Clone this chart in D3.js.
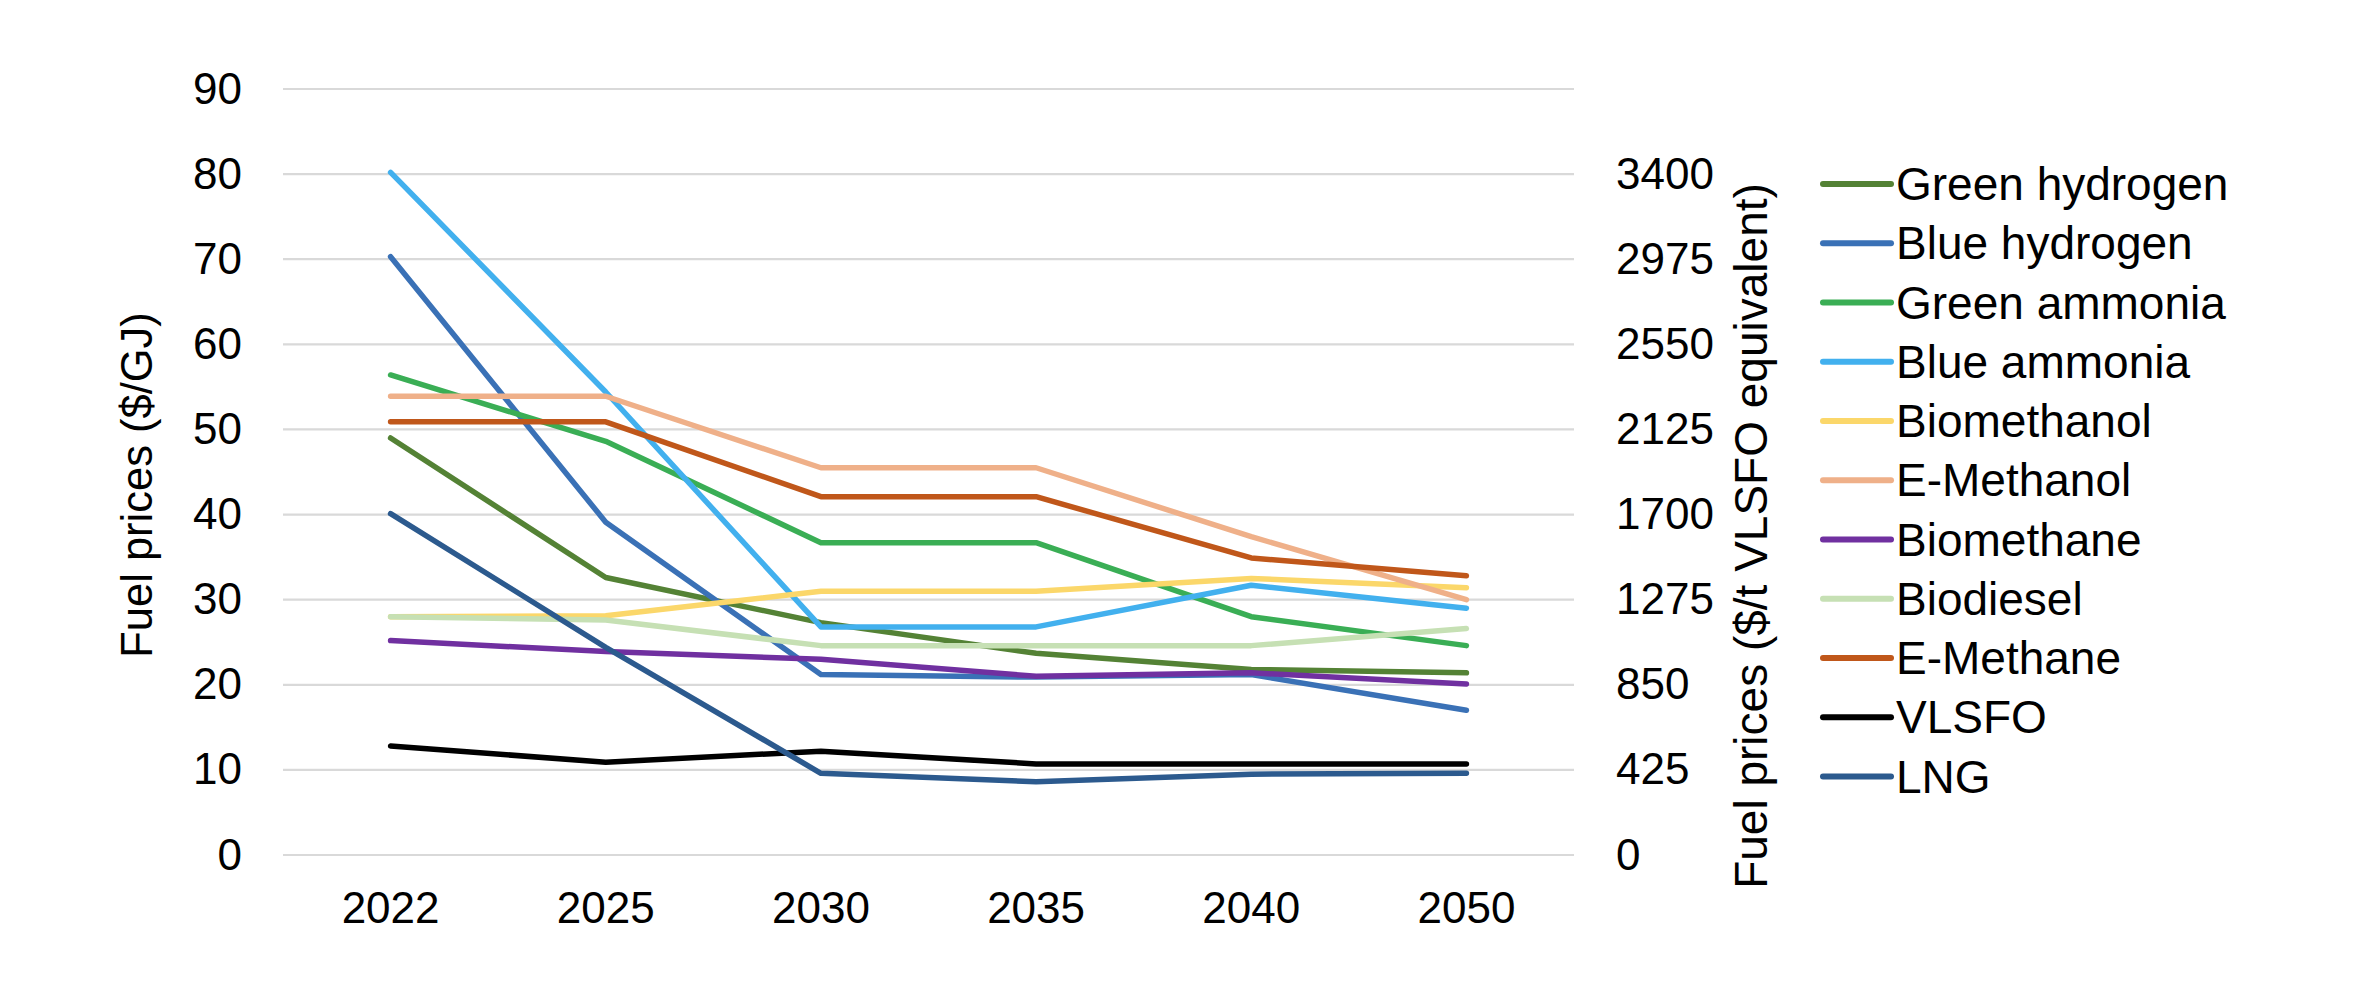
<!DOCTYPE html>
<html>
<head>
<meta charset="utf-8">
<script src="https://cdn.jsdelivr.net/npm/d3@7"></script>
<style>
  html, body { margin: 0; padding: 0; background: #fff; }
  svg { display: block; font-family: "Liberation Sans", Arial, sans-serif; }
</style>
</head>
<body>
<svg id="chart" width="2360" height="986"></svg>
<script>
const years = ["2022", "2025", "2030", "2035", "2040", "2050"];
const leftTicks = [0, 10, 20, 30, 40, 50, 60, 70, 80, 90];
const rightTicks = [0, 425, 850, 1275, 1700, 2125, 2550, 2975, 3400];

const seriesNames = ["Green hydrogen", "Blue hydrogen", "Green ammonia", "Blue ammonia", "Biomethanol",
  "E-Methanol", "Biomethane", "Biodiesel", "E-Methane", "VLSFO", "LNG"];
const seriesColors = ["#548235", "#3a71b6", "#3aae55", "#42b0ee", "#fbd76a",
  "#efb089", "#7030a0", "#c6e0b4", "#c0571a", "#000000", "#2c5a8e"];

const greenHydrogen = [49.0, 32.6, 27.3, 23.7, 21.8, 21.4];
const blueHydrogen  = [70.3, 39.1, 21.2, 20.9, 21.2, 17.0];
const greenAmmonia  = [56.4, 48.6, 36.7, 36.7, 28.0, 24.6];
const blueAmmonia   = [80.2, 54.4, 26.8, 26.8, 31.7, 29.0];
const biomethanol   = [28.0, 28.1, 31.0, 31.0, 32.5, 31.4];
const eMethanol     = [53.9, 53.9, 45.5, 45.5, 37.4, 30.0];
const biomethane    = [25.2, 23.9, 23.0, 21.0, 21.4, 20.1];
const biodiesel     = [28.0, 27.6, 24.6, 24.6, 24.6, 26.6];
const eMethane      = [50.9, 50.9, 42.1, 42.1, 34.9, 32.8];
const vlsfo         = [12.8, 10.9, 12.2, 10.7, 10.7, 10.7];
const lng           = [40.1, 24.4, 9.6, 8.6, 9.5, 9.6];

const seriesValues = [greenHydrogen, blueHydrogen, greenAmmonia, blueAmmonia, biomethanol,
  eMethanol, biomethane, biodiesel, eMethane, vlsfo, lng];

const svg = d3.select("#chart");
const plotLeft = 283, plotRight = 1574, plotTop = 89, plotBottom = 855;
const tickFont = 44;
const FF = "Liberation Sans, Arial, sans-serif";

const x = d3.scaleBand().domain(years).range([plotLeft, plotRight]);
const xc = d => x(d) + x.bandwidth() / 2;
const y = d3.scaleLinear().domain([0, 90]).range([plotBottom, plotTop]);
const y2 = d3.scaleLinear().domain([0, 90 * 42.5]).range([plotBottom, plotTop]);

// gridlines
svg.append("g").selectAll("line").data(leftTicks).join("line")
  .attr("x1", plotLeft).attr("x2", plotRight)
  .attr("y1", d => y(d)).attr("y2", d => y(d))
  .attr("stroke", "#d9d9d9").attr("stroke-width", 2.2);

// left axis
const leftAxis = svg.append("g").attr("transform", `translate(${plotLeft},0)`)
  .call(d3.axisLeft(y).tickValues(leftTicks).tickSize(0).tickPadding(41));
leftAxis.select(".domain").remove();
leftAxis.selectAll("text").attr("font-size", tickFont).attr("fill", "#000").attr("font-family", FF);

// right axis
const rightAxis = svg.append("g").attr("transform", `translate(${plotRight},0)`)
  .call(d3.axisRight(y2).tickValues(rightTicks).tickFormat(d3.format("d")).tickSize(0).tickPadding(42));
rightAxis.select(".domain").remove();
rightAxis.selectAll("text").attr("font-size", tickFont).attr("fill", "#000").attr("font-family", FF);

// bottom axis
const bottomAxis = svg.append("g").attr("transform", `translate(0,${plotBottom})`)
  .call(d3.axisBottom(x).tickSize(0).tickPadding(37));
bottomAxis.select(".domain").remove();
bottomAxis.selectAll("text").attr("font-size", tickFont).attr("fill", "#000").attr("font-family", FF);

// axis titles
svg.append("text")
  .attr("transform", `translate(152,485) rotate(-90)`)
  .attr("text-anchor", "middle").attr("font-size", 43.5).attr("fill", "#000")
  .text("Fuel prices ($/GJ)");
svg.append("text")
  .attr("transform", `translate(1767,536) rotate(-90)`)
  .attr("text-anchor", "middle").attr("font-size", 46).attr("fill", "#000")
  .text("Fuel prices ($/t VLSFO equivalent)");

// lines
const line = d3.line().x((d, i) => xc(years[i])).y(d => y(d));
svg.append("g").selectAll("path").data(seriesValues).join("path")
  .attr("d", d => line(d))
  .attr("fill", "none")
  .attr("stroke", (d, i) => seriesColors[i])
  .attr("stroke-width", 5.5)
  .attr("stroke-linecap", "round")
  .attr("stroke-linejoin", "round");

// legend
const legendX = 1823, legendY0 = 184, legendStep = 59.25;
const lg = svg.append("g").selectAll("g").data(seriesNames).join("g")
  .attr("transform", (d, i) => `translate(${legendX},${legendY0 + i * legendStep})`);
lg.append("line").attr("x1", 0).attr("x2", 68).attr("y1", 0).attr("y2", 0)
  .attr("stroke", (d, i) => seriesColors[i]).attr("stroke-width", 6)
  .attr("stroke-linecap", "round");
lg.append("text").attr("x", 73).attr("y", 0).attr("dy", "0.35em")
  .attr("font-size", 46).attr("fill", "#000").text(d => d);
</script>
</body>
</html>
